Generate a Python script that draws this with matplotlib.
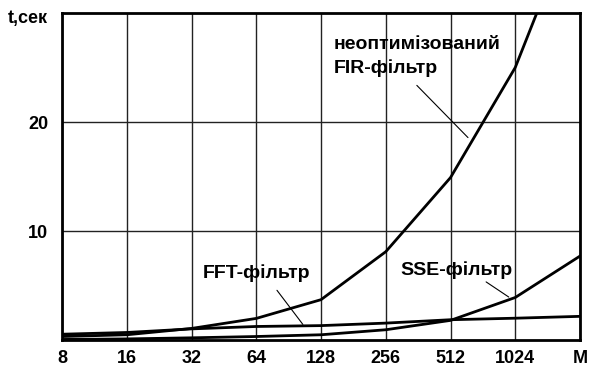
import numpy as np
import matplotlib.pyplot as plt

plt.rcParams['font.family'] = ['Liberation Sans', 'DejaVu Sans']
plt.rcParams['font.weight'] = 'bold'

### data
m_labels = ["8", "16", "32", "64", "128", "256", "512", "1024", "M"]
fir = [0.32, 0.48, 1.06, 1.98, 3.7, 8.1, 14.9, 25.0, 40.0]   # неоптимізований FIR
fft = [0.53, 0.69, 1.02, 1.24, 1.32, 1.55, 1.86, 2.0, 2.17]
sse = [0.05, 0.1, 0.2, 0.32, 0.48, 0.94, 1.8, 3.9, 7.7]
y_ticks = [10, 20]

x = np.arange(len(m_labels))

### plot details
fs = 13
fs_txt = 14
lw = 2

fig = plt.figure(figsize=(5.89, 3.70), dpi=100)
ax = fig.add_axes([62/589, 1 - 340/370, 518/589, 327/370])

for vals in (fir, fft, sse):
    ax.plot(x, vals, color="black", linewidth=lw, solid_joinstyle="miter")

ax.set_xlim(0, len(m_labels) - 1)
ax.set_ylim(0, 30)
ax.set_xticks(x)
ax.set_xticklabels(m_labels)
ax.set_yticks(y_ticks)
ax.tick_params(axis="x", length=0, labelsize=fs, pad=7)
ax.tick_params(axis="y", length=0, labelsize=fs, pad=10)
ax.grid(True, color="#222222", linewidth=1)
for sp in ax.spines.values():
    sp.set_linewidth(2)

fig.text(8/589, 1 - 18/370, "t,сек", fontsize=fs, fontweight="bold", va="center", ha="left")

# labels
ax.text(4.2, 26.0, "неоптимізований\nFIR-фільтр", fontsize=fs_txt, fontweight="bold",
        ha="left", va="center", linespacing=1.4)
ax.text(2.18, 6.13, "FFT-фільтр", fontsize=fs_txt, fontweight="bold", ha="left", va="center")
ax.text(5.22, 6.4, "SSE-фільтр", fontsize=fs_txt, fontweight="bold", ha="left", va="center")

# leader lines
leaders = [((5.48, 23.36), (6.27, 18.57)),
           ((3.32, 4.56), (3.72, 1.43)),
           ((6.55, 5.33), (6.90, 3.94))]
for start, end in leaders:
    ax.annotate("", xy=end, xytext=start,
                arrowprops=dict(arrowstyle="-", color="black", lw=0.8, shrinkA=0, shrinkB=0))

plt.savefig("out.png", dpi=100)
